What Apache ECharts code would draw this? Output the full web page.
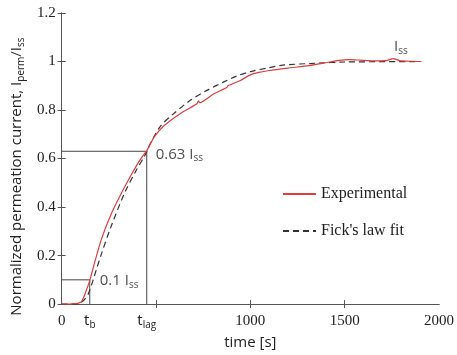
<!DOCTYPE html>
<html>
<head>
<meta charset="utf-8">
<script src="https://cdn.jsdelivr.net/npm/echarts@6/dist/echarts.min.js"></script>
<style>html,body{margin:0;padding:0;background:#fff;}#chart{width:457px;height:355px;}</style>
</head>
<body>
<div id="chart"></div>
<script>
// Experimental normalized permeation current
var expTime  = [0, 40, 75, 90, 105, 118, 131, 149, 175, 210, 262, 315, 367, 400, 429, 451, 490, 542, 630, 717, 725, 732, 805, 875, 882, 945, 1000, 1045, 1100, 1200, 1312, 1400, 1460, 1522, 1580, 1650, 1720, 1758, 1790, 1850, 1906];
var expValue = [0, 0, 0.002, 0.004, 0.01, 0.03, 0.057, 0.097, 0.172, 0.266, 0.37, 0.455, 0.53, 0.575, 0.61, 0.632, 0.688, 0.735, 0.786, 0.826, 0.838, 0.83, 0.866, 0.893, 0.9, 0.921, 0.945, 0.955, 0.963, 0.973, 0.983, 0.995, 1.004, 1.008, 1.006, 1.003, 1.004, 1.012, 1.004, 1.001, 1.0];
// Fick's law fit
var fitTime  = [0, 80, 100, 120, 140, 166, 185, 210, 262, 332, 394, 437, 451, 472, 525, 595, 682, 770, 857, 927, 1000, 1100, 1172, 1347, 1500, 1906];
var fitValue = [0, 0, 0.006, 0.018, 0.04, 0.097, 0.145, 0.205, 0.32, 0.455, 0.55, 0.607, 0.628, 0.665, 0.735, 0.786, 0.84, 0.881, 0.915, 0.94, 0.958, 0.975, 0.985, 0.993, 0.998, 1.0];
// characteristic times and levels
var tb = 149, tlag = 451;
var levelB = 0.1, levelLag = 0.63;
var issLabelAt = [1762, 1.06];
// tick values
var xTicks = [500, 1000, 1500];
var xLabels = [0, tb, tlag, 1000, 1500, 2000];
var seriesNames = ['Experimental', "Fick's law fit"];

function pairs(xs, ys) { return xs.map(function (x, i) { return [x, ys[i]]; }); }

var serif = 'Liberation Serif';
var sans = 'Open Sans';
var subStyle = { fontFamily: sans, fontSize: 10, lineHeight: 10, verticalAlign: 'bottom', color: '#222' };
var mainSans = { fontFamily: sans, fontSize: 15, lineHeight: 18, color: '#222' };

var chart = echarts.init(document.getElementById('chart'), null, { renderer: 'canvas' });
var boxColor = '#555';
var option = {
  animation: false,
  backgroundColor: '#fff',
  grid: { left: 60, right: 16, top: 13, bottom: 46 },
  legend: {
    data: seriesNames,
    orient: 'vertical',
    left: 277, top: 181,
    itemWidth: 33, itemHeight: 14, itemGap: 21,
    itemStyle: { opacity: 0 },
    textStyle: { fontFamily: serif, fontSize: 16, color: '#222' }
  },
  xAxis: [{
    type: 'value', min: 0, max: 2000, position: 'bottom',
    name: 'time [s]', nameLocation: 'middle', nameGap: 28,
    nameTextStyle: { fontFamily: sans, fontSize: 15, color: '#222' },
    axisLine: { show: true, lineStyle: { color: boxColor, width: 1 } },
    axisTick: { show: true, inside: true, length: 4, customValues: xTicks, lineStyle: { color: boxColor } },
    axisLabel: {
      customValues: xLabels, margin: 8,
      formatter: function (v) {
        if (v === tb) return '{t|t}{sub|b}';
        if (v === tlag) return '{t|t}{sub|lag}';
        return '{n|' + v + '}';
      },
      rich: {
        n: { fontFamily: serif, fontSize: 15, lineHeight: 18, color: '#222' },
        t: mainSans, sub: subStyle
      }
    },
    splitLine: { show: false }
  }, {
    type: 'value', min: 0, max: 2000, position: 'top',
    axisLine: { show: true, lineStyle: { color: boxColor, width: 1 } },
    axisTick: { show: true, inside: true, length: 4, customValues: xTicks, lineStyle: { color: boxColor } },
    axisLabel: { show: false }, splitLine: { show: false }
  }],
  yAxis: [{
    type: 'value', min: 0, max: 1.2, interval: 0.2, position: 'left',
    name: 'Normalized permeation current, I{sub|perm}/I{sub|ss}',
    nameLocation: 'middle', nameGap: 27,
    nameTextStyle: { fontFamily: sans, fontSize: 15, lineHeight: 18, color: '#222', padding: [0, 36, 0, 0], rich: { sub: subStyle } },
    axisLine: { show: true, lineStyle: { color: boxColor, width: 1 } },
    axisTick: { show: true, inside: true, length: 4, lineStyle: { color: boxColor } },
    axisLabel: { fontFamily: serif, fontSize: 15, color: '#222', margin: 6,
      formatter: function (v) { return String(Math.round(v * 10) / 10); } },
    splitLine: { show: false }
  }, {
    type: 'value', min: 0, max: 1.2, interval: 0.2, position: 'right',
    axisLine: { show: true, lineStyle: { color: boxColor, width: 1 } },
    axisTick: { show: true, inside: true, length: 4, lineStyle: { color: boxColor } },
    axisLabel: { show: false }, splitLine: { show: false }
  }],
  series: [
    {
      name: 'guideB', type: 'line', silent: true, symbol: 'none',
      data: [[0, levelB], [tb, levelB], [tb, 0]],
      lineStyle: { color: '#444', width: 1 }, z: 1
    },
    {
      name: 'guideLag', type: 'line', silent: true, symbol: 'none',
      data: [[0, levelLag], [tlag, levelLag], [tlag, 0]],
      lineStyle: { color: '#444', width: 1 }, z: 1
    },
    {
      name: seriesNames[0], type: 'line', symbol: 'none', smooth: 0.2,
      data: pairs(expTime, expValue),
      color: '#e23b3b',
      lineStyle: { color: '#e23b3b', width: 1.2 }, z: 3
    },
    {
      name: seriesNames[1], type: 'line', symbol: 'none', smooth: 0.3,
      data: pairs(fitTime, fitValue),
      color: '#333',
      lineStyle: { color: '#333', width: 1.2, type: [6, 4] }, z: 2
    },
    {
      name: 'annot', type: 'scatter', symbolSize: 0, silent: true,
      data: [
        { value: [tlag, levelLag], label: { show: true, position: 'right', distance: 9, offset: [0, 3], formatter: '{m|0.63 I}{sub|ss}' } },
        { value: [tb, levelB], label: { show: true, position: 'right', distance: 10, offset: [0, 1], formatter: '{m|0.1 I}{sub|ss}' } },
        { value: issLabelAt, label: { show: true, position: 'right', distance: 0, formatter: '{m|I}{sub|ss}' } }
      ],
      label: { rich: { m: mainSans, sub: subStyle } }
    }
  ]
};
chart.setOption(option);
</script>
</body>
</html>
